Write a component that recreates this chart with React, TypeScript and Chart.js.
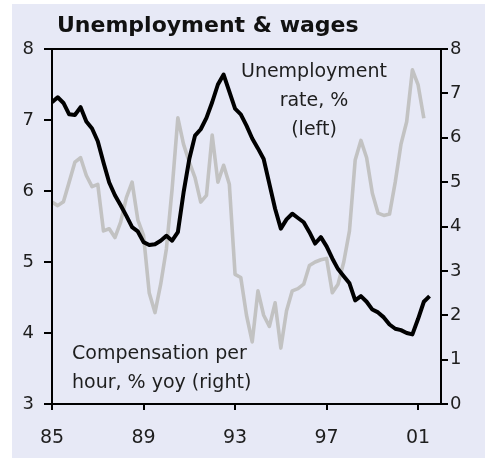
import React, { useEffect, useRef } from 'react';
import { Chart, registerables } from 'chart.js';

Chart.register(...registerables);

// Quarterly data, first point 1985 Q1
const startYear = 1985;
const quartersPerYear = 4;

// Unemployment rate, % (left axis)
const unemploymentRate = [
  7.25, 7.32, 7.24, 7.08,
  7.07, 7.18, 6.98, 6.88,
  6.70, 6.40, 6.12, 5.94,
  5.80, 5.65, 5.49, 5.43,
  5.28, 5.24, 5.25, 5.30,
  5.37, 5.30, 5.42, 5.98,
  6.45, 6.78, 6.87, 7.03,
  7.25, 7.50, 7.64, 7.40,
  7.16, 7.08, 6.92, 6.74,
  6.60, 6.45, 6.10, 5.75,
  5.47, 5.60, 5.68, 5.62,
  5.56, 5.42, 5.26, 5.35,
  5.22, 5.05, 4.90, 4.80,
  4.70, 4.46, 4.52, 4.44,
  4.33, 4.29, 4.22, 4.12,
  4.06, 4.04, 4.00, 3.98,
  4.20, 4.44, 4.52,
];

// Compensation per hour, % yoy (right axis)
const compensationGrowth = [
  4.55, 4.47, 4.56, 5.00,
  5.45, 5.55, 5.15, 4.90,
  4.95, 3.90, 3.95, 3.75,
  4.10, 4.65, 5.00, 4.15,
  3.80, 2.50, 2.06, 2.70,
  3.50, 4.85, 6.45, 5.85,
  5.45, 5.10, 4.55, 4.70,
  6.06, 5.00, 5.38, 4.95,
  2.92, 2.85, 2.00, 1.40,
  2.55, 2.00, 1.75, 2.28,
  1.26, 2.10, 2.55, 2.60,
  2.70, 3.12, 3.20, 3.25,
  3.28, 2.51, 2.70, 3.20,
  3.90, 5.50, 5.94, 5.55,
  4.75, 4.30, 4.25, 4.28,
  5.00, 5.85, 6.36, 7.53,
  7.19, 6.44,
];

const xTickYears = [1985, 1989, 1993, 1997, 2001];
const xMin = 1985;
const xMax = 2002;
const leftMin = 3;
const leftMax = 8;
const rightMin = 0;
const rightMax = 8;

const chartTitle = 'Unemployment & wages';
const unemploymentLabel = ['Unemployment', 'rate, %', '(left)'];
const compensationLabel = ['Compensation per', 'hour, % yoy (right)'];

const FONT = '"DejaVu Sans", "Liberation Sans", Arial, sans-serif';
const TEXT_COLOR = '#1e1e1e';
const BG = '#e7e9f6';
const W = 473;
const H = 454;

const toPoints = (values: number[]) =>
  values.map((v, i) => ({ x: startYear + i / quartersPerYear, y: v }));

const overlayPlugin = {
  id: 'overlay',
  afterDatasetsDraw(chart: any) {
    const { ctx, chartArea: a } = chart;
    ctx.save();
    ctx.strokeStyle = '#000';
    ctx.lineWidth = 2;
    ctx.strokeRect(a.left, a.top, a.right - a.left, a.bottom - a.top);

    ctx.fillStyle = '#111';
    ctx.textBaseline = 'alphabetic';
    ctx.textAlign = 'left';
    ctx.font = `bold 22px ${FONT}`;
    ctx.fillText(chartTitle, a.left + 5, 28);

    ctx.fillStyle = TEXT_COLOR;
    ctx.font = `19px ${FONT}`;
    ctx.textAlign = 'center';
    unemploymentLabel.forEach((t, k) => ctx.fillText(t, a.left + 262, a.top + 28 + k * 29));
    ctx.textAlign = 'left';
    compensationLabel.forEach((t, k) => ctx.fillText(t, a.left + 20, a.top + 310 + k * 29));
    ctx.restore();
  },
};

export default function App() {
  const ref = useRef<HTMLCanvasElement>(null);

  useEffect(() => {
    if (!ref.current) return;
    const tickGrid = (len: number) => ({
      drawOnChartArea: false,
      drawTicks: true,
      tickLength: len,
      color: '#000',
      lineWidth: 2,
    });
    const chart = new Chart(ref.current, {
      type: 'line',
      data: {
        datasets: [
          {
            label: 'Unemployment rate, % (left)',
            data: toPoints(unemploymentRate),
            yAxisID: 'yL',
            borderColor: '#000000',
            borderWidth: 4,
            pointRadius: 0,
            tension: 0,
            borderJoinStyle: 'round',
          },
          {
            label: 'Compensation per hour, % yoy (right)',
            data: toPoints(compensationGrowth),
            yAxisID: 'yR',
            borderColor: '#c2c2c2',
            borderWidth: 3.6,
            pointRadius: 0,
            tension: 0,
            borderJoinStyle: 'round',
          },
        ],
      },
      options: {
        animation: false,
        responsive: false,
        devicePixelRatio: 1,
        layout: { padding: { top: 45, left: 0, right: 0, bottom: 0 } },
        plugins: {
          legend: { display: false },
          tooltip: { enabled: false },
          title: { display: false },
        },
        scales: {
          x: {
            type: 'linear',
            min: xMin,
            max: xMax,
            afterBuildTicks: (s: any) => {
              s.ticks = xTickYears.map((v) => ({ value: v }));
            },
            afterFit: (s: any) => {
              s.height = 54;
            },
            grid: tickGrid(6),
            border: { display: false },
            ticks: {
              autoSkip: false,
              maxRotation: 0,
              padding: 17,
              color: TEXT_COLOR,
              font: { family: FONT, size: 19 },
              callback: (v: any) => String(Number(v) % 100).padStart(2, '0'),
            },
          },
          yL: {
            type: 'linear',
            position: 'left',
            min: leftMin,
            max: leftMax,
            afterFit: (s: any) => {
              s.width = 40;
            },
            grid: tickGrid(8),
            border: { display: false },
            ticks: {
              stepSize: 1,
              padding: 10,
              color: TEXT_COLOR,
              font: { family: FONT, size: 18 },
            },
          },
          yR: {
            type: 'linear',
            position: 'right',
            min: rightMin,
            max: rightMax,
            afterFit: (s: any) => {
              s.width = 44;
            },
            grid: tickGrid(7),
            border: { display: false },
            ticks: {
              stepSize: 1,
              padding: 2,
              color: TEXT_COLOR,
              font: { family: FONT, size: 18 },
            },
          },
        },
      },
      plugins: [overlayPlugin],
    } as any);
    return () => chart.destroy();
  }, []);

  return (
    <div
      style={{
        position: 'absolute',
        left: 12,
        top: 4,
        width: W,
        height: H,
        background: BG,
      }}
    >
      <canvas ref={ref} width={W} height={H} style={{ display: 'block', width: W, height: H }} />
    </div>
  );
}
